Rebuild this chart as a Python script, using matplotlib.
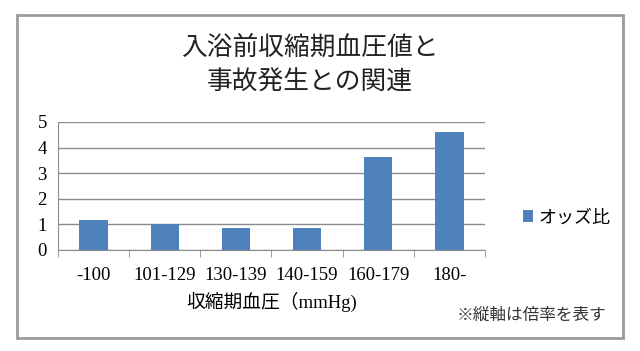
import matplotlib
matplotlib.use("Agg")
import matplotlib.pyplot as plt
from matplotlib.patches import Rectangle

categories = ["-100", "101-129", "130-139", "140-159", "160-179", "180-"]
odds = [1.18, 1.01, 0.84, 0.87, 3.63, 4.62]
series_name = "オッズ比"
title = "入浴前収縮期血圧値と\n事故発生との関連"
xlabel = "収縮期血圧（mmHg)"
note = "※縦軸は倍率を表す"

JP = ["Noto Sans CJK JP", "DejaVu Sans"]
SERIF_JP = ["Liberation Serif", "Noto Sans CJK JP"]

fig = plt.figure(figsize=(6.4, 3.51), dpi=100)
fig.patch.set_facecolor("white")
fig.patches.append(Rectangle((17/640, 1-338/351), (623-17)/640, (338-15)/351,
                             transform=fig.transFigure, fill=False,
                             edgecolor="#9a9a9a", linewidth=2))

ax = fig.add_axes([58/640, 1-250/351, (485-58)/640, (250-122)/351])
x = list(range(len(categories)))
bars = ax.bar(x, odds, width=0.4, color="#4F81BD", label=series_name, zorder=3)
ax.set_xlim(-0.5, len(categories)-0.5)
ax.set_ylim(0, 5)
ax.set_yticks([0, 1, 2, 3, 4, 5])
ax.yaxis.grid(True, color="#8c8c8c", linewidth=1, zorder=0)
for s in ["top", "right"]:
    ax.spines[s].set_visible(False)
ax.spines["left"].set_color("#8c8c8c")
ax.spines["bottom"].set_color("#8c8c8c")
ax.tick_params(axis="y", length=0, pad=8, labelsize=13.5)
ax.set_xticks(x)
ax.set_xticklabels(categories)
ax.set_xticks([i - 0.5 for i in range(len(categories)+1)], minor=True)
ax.tick_params(axis="x", which="major", length=0, pad=12, labelsize=13.5)
ax.tick_params(axis="x", which="minor", length=5, color="#8c8c8c", direction="out")
for lbl in ax.get_xticklabels() + ax.get_yticklabels():
    lbl.set_fontfamily(SERIF_JP)

ax.set_xlabel(xlabel, fontsize=13.5, family=SERIF_JP, labelpad=6)

fig.text(310/640, 1-65/351, title, ha="center", va="center", fontsize=18.5,
         family=JP, linespacing=1.45, color="#222222")

leg = ax.legend(loc="center left", bbox_to_anchor=(1.05, 0.25), frameon=False,
                prop={"family": SERIF_JP, "size": 13}, handlelength=0.6,
                handleheight=0.6, handletextpad=0.3)

fig.text(606/640, 1-316/351, note, ha="right", va="center", fontsize=12,
         family=SERIF_JP, color="#333333")

fig.savefig("out.png", dpi=100)
